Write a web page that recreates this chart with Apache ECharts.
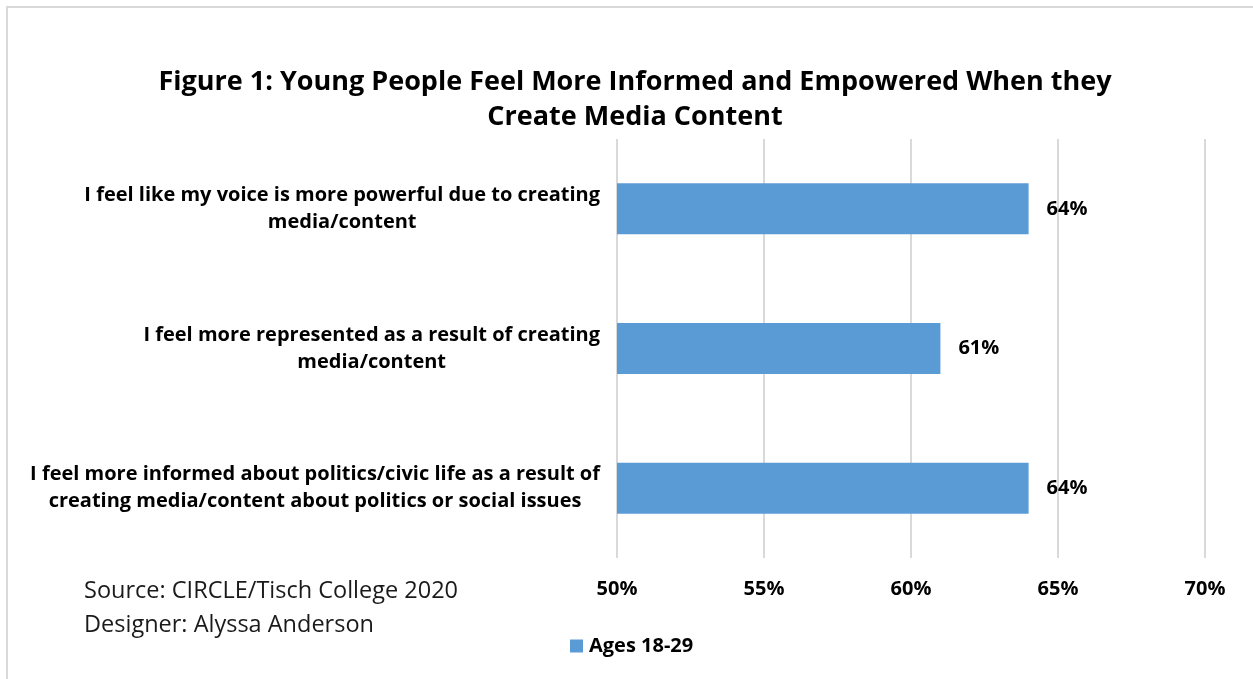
<!DOCTYPE html>
<html>
<head>
<meta charset="utf-8">
<script src="https://cdn.jsdelivr.net/npm/echarts@6/dist/echarts.min.js"></script>
<style>
    html, body { margin: 0; padding: 0; background: #fff; }
    #chart { width: 1253px; height: 679px; }
</style>
</head>
<body>
<div id="chart"></div>
<script type="text/javascript">
    // data (bottom to top, as echarts draws category axes)
    var categories = [
        'I feel more informed about politics/civic life as a result of\ncreating media/content about politics or social issues',
        'I feel more represented as a result of creating\nmedia/content',
        'I feel like my voice is more powerful due to creating\nmedia/content'
    ];
    var values = [64, 61, 64];
    var seriesName = 'Ages 18-29';
    var axisMin = 50, axisMax = 70, axisStep = 5;

    var font = '"Open Sans", sans-serif';
    var chart = echarts.init(document.getElementById('chart'));

    var option = {
        backgroundColor: '#fff',
        animation: false,
        title: {
            text: 'Figure 1: Young People Feel More Informed and Empowered When they\nCreate Media Content',
            left: 630,
            top: 60,
            textAlign: 'center',
            textStyle: { fontFamily: font, fontSize: 27, fontWeight: 'bold', color: '#000', lineHeight: 35 }
        },
        graphic: [
            {
                type: 'rect',
                shape: { x: 7, y: 7, width: 1400, height: 800 },
                style: { fill: 'none', stroke: '#d9d9d9', lineWidth: 2 },
                silent: true
            },
            {
                type: 'text',
                left: 84,
                top: 574,
                style: {
                    text: 'Source: CIRCLE/Tisch College 2020\nDesigner: Alyssa Anderson',
                    font: '23.5px ' + font,
                    fill: '#1a1a1a',
                    lineHeight: 34
                }
            }
        ],
        legend: {
            data: [seriesName],
            left: 570,
            top: 636,
            padding: 0,
            itemWidth: 13,
            itemHeight: 13,
            icon: 'rect',
            textStyle: { fontFamily: font, fontSize: 20, fontWeight: 'bold', color: '#000', padding: [0, 0, 0, 1] }
        },
        grid: { left: 617, right: 48, top: 139, height: 419, containLabel: false },
        xAxis: {
            type: 'value',
            min: axisMin,
            max: axisMax,
            interval: axisStep,
            axisLine: { show: false },
            axisTick: { show: false },
            splitLine: { lineStyle: { color: '#d9d9d9', width: 2 } },
            axisLabel: {
                margin: 21,
                fontFamily: font,
                fontSize: 20,
                fontWeight: 'bold',
                color: '#000',
                formatter: '{value}%'
            }
        },
        yAxis: {
            type: 'category',
            data: categories,
            axisLine: { show: false },
            axisTick: { show: false },
            axisLabel: {
                margin: 17,
                align: 'right',
                formatter: function (v) {
                    return v.split('\n').map(function (s) { return '{c|' + s + '}'; }).join('\n');
                },
                rich: {
                    c: { align: 'center', fontFamily: font, fontSize: 20, fontWeight: 'bold', color: '#000', lineHeight: 27 }
                }
            }
        },
        series: [
            {
                name: seriesName,
                type: 'bar',
                data: values,
                barWidth: 51,
                itemStyle: { color: '#5b9bd5' },
                label: {
                    show: true,
                    position: 'right',
                    distance: 18,
                    formatter: '{c}%',
                    fontFamily: font,
                    fontSize: 20,
                    fontWeight: 'bold',
                    color: '#000'
                }
            }
        ]
    };
    chart.setOption(option);
</script>
</body>
</html>
